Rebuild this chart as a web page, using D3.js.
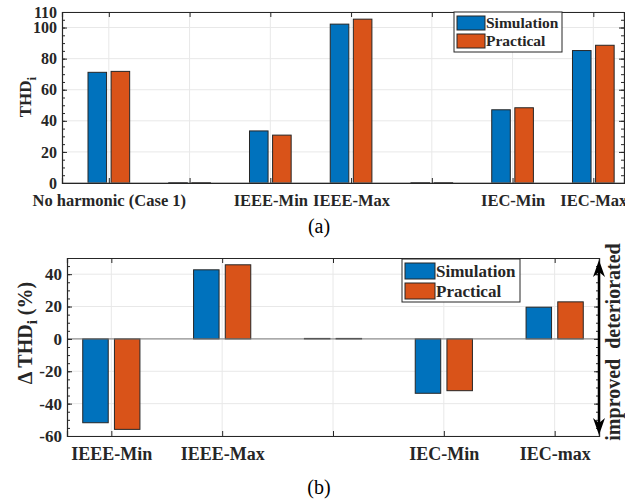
<!DOCTYPE html>
<html>
<head>
<meta charset="utf-8">
<script src="https://cdn.jsdelivr.net/npm/d3@7"></script>
<style>
  body { margin: 0; background: #fff; }
  svg { display: block; }
  svg text { font-family: "Liberation Serif", "Times New Roman", serif; }
</style>
</head>
<body>
<div id="wrapper"></div>
<script>
// (a) THD_i per case
const topCategories = ["No harmonic (Case 1)", "", "IEEE-Min", "IEEE-Max", "", "IEC-Min", "IEC-Max"]
const topSimulation = [71.2, 0.3, 33.5, 102.2, 0.3, 47.1, 85.2]
const topPractical = [71.8, 0.3, 30.8, 105.4, 0.3, 48.4, 88.6]
const topYTicks = [0, 20, 40, 60, 80, 100, 110]

// (b) change of THD_i in percent
const bottomCategories = ["IEEE-Min", "IEEE-Max", "", "IEC-Min", "IEC-max"]
const bottomSimulation = [-51.8, 42.7, 0.3, -33.6, 19.6]
const bottomPractical = [-55.9, 45.8, 0.3, -32.0, 22.9]
const bottomYTicks = [-60, -40, -20, 0, 20, 40]

const seriesNames = ["Simulation", "Practical"]
const seriesColors = ["#0072BD", "#D95319"]

const svg = d3.select("#wrapper")
  .append("svg")
    .attr("width", 625)
    .attr("height", 501)

function drawPanel(opts) {
  const { box, categories, series, xDomain, yDomain, yTicks, fontTick, fontCat, legend } = opts

  const x = d3.scaleLinear().domain(xDomain).range([box.left, box.right])
  const y = d3.scaleLinear().domain(yDomain).range([box.bottom, box.top])
  const idx = categories.map((d, i) => i + 1)

  const g = svg.append("g")

  // grid
  g.append("g").selectAll("line").data(idx).join("line")
    .attr("x1", d => x(d)).attr("x2", d => x(d))
    .attr("y1", box.top).attr("y2", box.bottom)
    .attr("stroke", "#e8e8e8")
  g.append("g").selectAll("line").data(yTicks).join("line")
    .attr("x1", box.left).attr("x2", box.right)
    .attr("y1", d => y(d)).attr("y2", d => y(d))
    .attr("stroke", "#e8e8e8")

  // bars
  const barW = 0.23
  const offsets = [-0.143, 0.143]
  series.forEach((vals, s) => {
    g.append("g").selectAll("rect").data(vals).join("rect")
      .attr("x", (d, i) => x(i + 1 + offsets[s] - barW / 2))
      .attr("width", x(barW) - x(0))
      .attr("y", d => y(Math.max(0, d)))
      .attr("height", d => Math.abs(y(d) - y(0)))
      .attr("fill", seriesColors[s])
      .attr("stroke", "#262626")
      .attr("stroke-width", 1)
  })

  // baseline
  g.append("line")
    .attr("x1", box.left).attr("x2", box.right)
    .attr("y1", y(0)).attr("y2", y(0))
    .attr("stroke", "#7a7a7a")

  // axes (MATLAB style, ticks pointing inward, box on)
  const minor = d3.range(yDomain[0], yDomain[1] + 0.1, 5)
  const left = g.append("g").attr("transform", `translate(${box.left},0)`)
    .call(d3.axisLeft(y).tickValues(yTicks).tickSize(-5).tickPadding(5).tickFormat(d => String(d)))
  g.append("g").attr("transform", `translate(${box.right},0)`)
    .call(d3.axisRight(y).tickValues(yTicks).tickSize(-5).tickFormat(""))
  g.append("g").attr("transform", `translate(${box.left},0)`)
    .call(d3.axisLeft(y).tickValues(minor).tickSize(-3).tickFormat(""))
    .select(".domain").remove()
  g.append("g").attr("transform", `translate(${box.right},0)`)
    .call(d3.axisRight(y).tickValues(minor).tickSize(-3).tickFormat(""))
    .select(".domain").remove()
  const bottom = g.append("g").attr("transform", `translate(0,${box.bottom})`)
    .call(d3.axisBottom(x).tickValues(idx).tickSize(-5).tickPadding(11).tickFormat(d => categories[d - 1]))
  g.append("g").attr("transform", `translate(0,${box.top})`)
    .call(d3.axisTop(x).tickValues(idx).tickSize(-5).tickFormat(""))

  g.selectAll(".domain").attr("stroke", "#262626").attr("stroke-width", 1.2)
  g.selectAll(".tick line").attr("stroke", "#262626")
  left.selectAll("text").attr("font-size", fontTick).attr("font-weight", "bold").attr("fill", "#262626")
  bottom.selectAll("text").attr("font-size", fontCat).attr("font-weight", "bold").attr("fill", "#262626")

  // legend
  const lg = g.append("g").attr("transform", `translate(${legend.x},${legend.y})`)
  lg.append("rect")
    .attr("width", legend.w).attr("height", legend.h)
    .attr("fill", "#fff").attr("stroke", "#262626")
  seriesNames.forEach((name, i) => {
    const rowY = 4 + i * legend.row
    lg.append("rect")
      .attr("x", 3).attr("y", rowY)
      .attr("width", legend.sw).attr("height", legend.row - 4)
      .attr("fill", seriesColors[i]).attr("stroke", "#262626")
    lg.append("text")
      .attr("x", legend.sw + 4).attr("y", rowY + legend.row / 2 - 2)
      .attr("dy", "0.35em")
      .attr("font-size", legend.font).attr("font-weight", "bold")
      .attr("fill", "#262626")
      .text(name)
  })

  return { x, y }
}

// panel (a)
drawPanel({
  box: { left: 62, right: 624, top: 12, bottom: 183 },
  categories: topCategories,
  series: [topSimulation, topPractical],
  xDomain: [0.42, 7.38],
  yDomain: [0, 110],
  yTicks: topYTicks,
  fontTick: 16,
  fontCat: 16.5,
  legend: { x: 454, y: 12, w: 108, h: 40, sw: 28, row: 18, font: 15.5 }
})

svg.append("text")
  .attr("transform", "translate(31,97) rotate(-90)")
  .attr("text-anchor", "middle")
  .attr("font-size", 17).attr("font-weight", "bold").attr("fill", "#262626")
  .call(t => {
    t.append("tspan").text("THD")
    t.append("tspan").attr("dy", 5).attr("font-size", 13).text("i")
  })

svg.append("text")
  .attr("x", 319).attr("y", 233)
  .attr("text-anchor", "middle")
  .attr("font-size", 20)
  .text("(a)")

// panel (b)
const pb = drawPanel({
  box: { left: 67, right: 599, top: 258, bottom: 436 },
  categories: bottomCategories,
  series: [bottomSimulation, bottomPractical],
  xDomain: [0.6, 5.4],
  yDomain: [-60, 50],
  yTicks: bottomYTicks,
  fontTick: 17,
  fontCat: 18,
  legend: { x: 402, y: 259, w: 118, h: 43, sw: 30, row: 20, font: 17 }
})

svg.append("text")
  .attr("transform", "translate(32,333) rotate(-90)")
  .attr("text-anchor", "middle")
  .attr("font-size", 20).attr("font-weight", "bold").attr("fill", "#262626")
  .call(t => {
    t.append("tspan").text("\u0394 THD")
    t.append("tspan").attr("dy", 5).attr("font-size", 15).text("i")
    t.append("tspan").attr("dy", -5).text(" (%)")
  })

// improved / deteriorated arrow along the right axis
const arrowX = 599
const arrowTop = pb.y(50) + 2
const arrowBottom = pb.y(-60) - 1
svg.append("line")
  .attr("x1", arrowX).attr("x2", arrowX)
  .attr("y1", arrowTop + 8).attr("y2", arrowBottom - 8)
  .attr("stroke", "#000").attr("stroke-width", 2.5)
svg.append("path")
  .attr("d", `M${arrowX},${arrowTop} L${arrowX + 6},${arrowTop + 17} L${arrowX},${arrowTop + 12} L${arrowX - 6},${arrowTop + 17} Z`)
  .attr("fill", "#000")
svg.append("path")
  .attr("d", `M${arrowX},${arrowBottom} L${arrowX + 6},${arrowBottom - 17} L${arrowX},${arrowBottom - 12} L${arrowX - 6},${arrowBottom - 17} Z`)
  .attr("fill", "#000")

svg.append("text")
  .attr("transform", `translate(620,342) rotate(-90)`)
  .attr("text-anchor", "middle")
  .attr("font-size", 20).attr("font-weight", "bold").attr("fill", "#262626")
  .attr("xml:space", "preserve")
  .style("white-space", "pre")
  .text("improved  deteriorated")

svg.append("text")
  .attr("x", 319).attr("y", 494)
  .attr("text-anchor", "middle")
  .attr("font-size", 20)
  .text("(b)")
</script>
</body>
</html>
